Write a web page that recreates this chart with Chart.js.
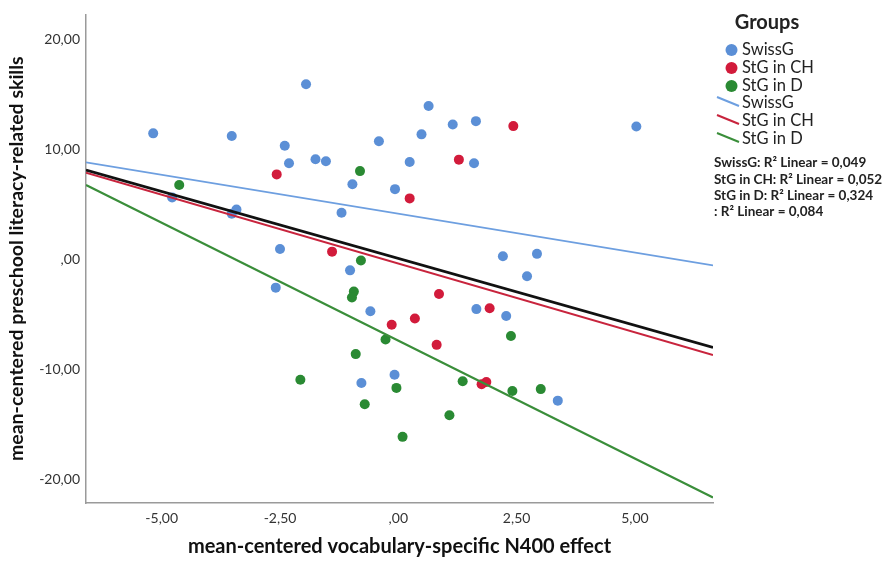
<!DOCTYPE html>
<html>
<head>
<meta charset="utf-8">
<script src="https://cdn.jsdelivr.net/npm/chart.js@4"></script>
<style>
  body { margin: 0; background: #fff; }
  #wrap { width: 894px; height: 563px; }
</style>
</head>
<body>
<div id="wrap"><canvas id="groupsChart" width="894" height="563"></canvas></div>
<script>
// values
var groupNames = ['SwissG', 'StG in CH', 'StG in D'];

var swissX = [-5.18, -3.52, -1.95, -2.40, -2.31, -1.75, -1.53, -0.41, -0.97, -1.20, -0.07, 0.24, 0.49, 0.64, 1.15, 1.64, 1.60, 5.03,
              -3.42, -3.52, -4.78, -2.50, 2.21, 2.93, -1.02, -2.59, -0.59, -0.08, -0.78, 2.72, 1.65, 2.28, 3.37];
var swissY = [11.49, 11.25, 15.96, 10.36, 8.77, 9.13, 8.95, 10.77, 6.87, 4.27, 6.42, 8.89, 11.40, 13.97, 12.29, 12.60, 8.77, 12.11,
              4.57, 4.18, 5.67, 0.98, 0.33, 0.54, -0.96, -2.53, -4.68, -10.45, -11.19, -1.50, -4.48, -5.10, -12.80];

var chX = [-2.57, -1.40, 2.43, 1.28, 0.24, 0.86, 1.93, -0.14, 0.35, 0.81, 1.86, 1.76];
var chY = [7.76, 0.74, 12.15, 9.10, 5.58, -3.11, -4.41, -5.91, -5.34, -7.73, -11.10, -11.31];

var deX = [-0.81, -4.63, -0.79, -0.94, -0.98, -0.27, -0.90, -2.07, -0.04, -0.71, 0.09, 2.38, 1.36, 2.41, 3.01, 1.08];
var deY = [8.06, 6.80, -0.06, -2.89, -3.43, -7.25, -8.57, -10.90, -11.64, -13.13, -16.09, -6.92, -11.04, -11.93, -11.75, -14.12];

// fit lines: y at the left and right ends of the x range
var fitX = [-6.6, 6.65];
var swissFit = [8.86, -0.51];
var chFit = [7.91, -8.66];
var deFit = [6.80, -21.60];
var totalFit = [8.15, -7.97];

var r2Notes = ['SwissG: R\u00b2 Linear = 0,049', 'StG in CH: R\u00b2 Linear = 0,052',
               'StG in D: R\u00b2 Linear = 0,324', ': R\u00b2 Linear = 0,084'];

var xTicks = [-5, -2.5, 0, 2.5, 5];
var xTickLabels = ['-5,00', '-2,50', ',00', '2,50', '5,00'];
var yTicks = [-20, -10, 0, 10, 20];
var yTickLabels = ['-20,00', '-10,00', ',00', '10,00', '20,00'];

var colors = ['#5b8fd6', '#d21b3b', '#2a8a33'];
var lineColors = ['#6d9fe0', '#c8243d', '#3a8e3a'];

function pts(xs, ys) {
  return xs.map(function (x, i) { return { x: x, y: ys[i] }; });
}

var pointSets = [[swissX, swissY], [chX, chY], [deX, deY]];
var fits = [swissFit, chFit, deFit];
var datasets = [];

datasets.push({
  label: 'total', data: pts(fitX, totalFit), showLine: true,
  borderColor: '#111', borderWidth: 2.8, pointRadius: 0, order: 0
});
fits.forEach(function (f, i) {
  datasets.push({
    label: groupNames[i] + ' fit', data: pts(fitX, f), showLine: true,
    borderColor: lineColors[i], borderWidth: i === 0 ? 1.7 : 2.1, pointRadius: 0, order: 1
  });
});
pointSets.forEach(function (s, i) {
  datasets.push({
    label: groupNames[i], data: pts(s[0], s[1]),
    backgroundColor: colors[i], borderColor: colors[i], borderWidth: 0,
    pointRadius: 5, order: 2
  });
});

var legendPlugin = {
  id: 'groupsLegend',
  afterDraw: function (chart) {
    var ctx = chart.ctx;
    ctx.save();
    ctx.fillStyle = '#222';
    ctx.textBaseline = 'middle';
    ctx.textAlign = 'center';
    ctx.font = 'bold 20px Lato';
    ctx.fillText('Groups', 767, 23);
    ctx.textAlign = 'left';
    ctx.font = '16.5px Lato';
    groupNames.forEach(function (name, i) {
      var y = 50 + i * 18;
      ctx.fillStyle = colors[i];
      ctx.beginPath();
      ctx.arc(731.5, y, 6, 0, Math.PI * 2);
      ctx.fill();
      ctx.fillStyle = '#222';
      ctx.fillText(name, 742, y);
    });
    groupNames.forEach(function (name, i) {
      var y = 103 + i * 18;
      ctx.strokeStyle = lineColors[i];
      ctx.lineWidth = 2;
      ctx.beginPath();
      ctx.moveTo(717, y - 6);
      ctx.lineTo(739, y + 3);
      ctx.stroke();
      ctx.fillStyle = '#222';
      ctx.fillText(name, 742, y);
    });
    ctx.font = 'bold 13.5px Lato';
    r2Notes.forEach(function (t, i) {
      ctx.fillText(t, 714, 163 + i * 16.3);
    });
    ctx.restore();
  }
};

var ctx = document.getElementById('groupsChart').getContext('2d');
var chart = new Chart(ctx, {
  type: 'scatter',
  data: { datasets: datasets },
  options: {
    responsive: false,
    animation: false,
    layout: { padding: { top: 7, right: 181, bottom: 0, left: 0 } },
    plugins: { legend: { display: false }, tooltip: { enabled: false } },
    scales: {
      x: {
        min: fitX[0], max: fitX[1],
        grid: { display: false, drawTicks: false },
        border: { display: true, color: '#9a9a9a', width: 1.5 },
        afterBuildTicks: function (scale) {
          scale.ticks = xTicks.map(function (v) { return { value: v }; });
        },
        afterFit: function (scale) { scale.height = 60; },
        ticks: {
          padding: 7, color: '#333', font: { family: 'Lato', size: 14 },
          callback: function (value) { return xTickLabels[xTicks.indexOf(value)]; }
        },
        title: {
          display: true, text: 'mean-centered vocabulary-specific N400 effect',
          color: '#111', font: { family: 'Lato', size: 20, weight: 'bold' },
          padding: { bottom: 4 }
        }
      },
      y: {
        min: -22.1, max: 22.3,
        grid: { display: false, drawTicks: false },
        border: { display: true, color: '#9a9a9a', width: 1.5 },
        afterBuildTicks: function (scale) {
          scale.ticks = yTicks.map(function (v) { return { value: v }; });
        },
        afterFit: function (scale) { scale.width = 86; },
        ticks: {
          padding: 6, color: '#333', font: { family: 'Lato', size: 14 },
          callback: function (value) { return yTickLabels[yTicks.indexOf(value)]; }
        },
        title: {
          display: true, text: 'mean-centered preschool literacy-related skills',
          color: '#111', font: { family: 'Lato', size: 19.5, weight: 'bold' },
          padding: { top: 5 }
        }
      }
    }
  },
  plugins: [legendPlugin]
});
</script>
</body>
</html>
